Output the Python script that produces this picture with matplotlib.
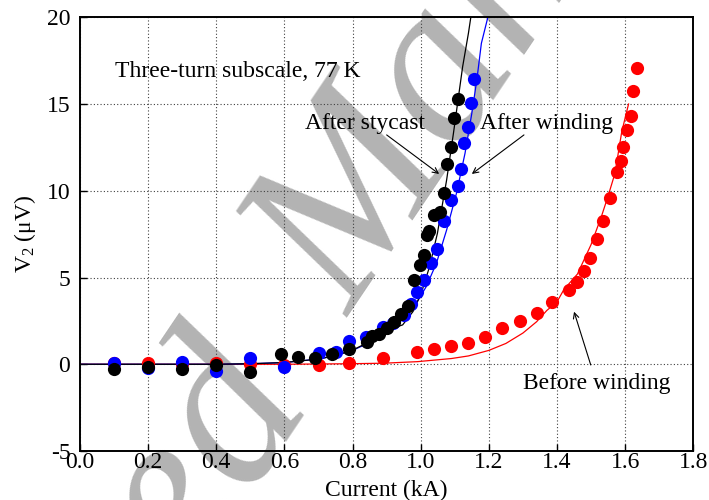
import numpy as np
import matplotlib
matplotlib.use("Agg")
import matplotlib.pyplot as plt

plt.rcParams["font.family"] = ["Liberation Serif", "DejaVu Serif"]
plt.rcParams["mathtext.fontset"] = "custom"
plt.rcParams["mathtext.rm"] = "Liberation Serif"
plt.rcParams["mathtext.it"] = "Liberation Serif:italic"
plt.rcParams["axes.unicode_minus"] = False

# measured points, current in kA, V2 in uV
before_I = [0.10, 0.20, 0.30, 0.40, 0.50, 0.60, 0.70, 0.79, 0.89, 0.99, 1.04,
            1.09, 1.14, 1.19, 1.24, 1.29, 1.34, 1.385, 1.435, 1.458, 1.48,
            1.497, 1.516, 1.536, 1.556, 1.575, 1.587, 1.595, 1.604, 1.616,
            1.624, 1.634]
before_V = [0.10, 0.05, 0.0, 0.05, 0.0, -0.04, -0.04, 0.09, 0.38, 0.73, 0.88,
            1.07, 1.25, 1.56, 2.07, 2.50, 2.98, 3.57, 4.26, 4.76, 5.38,
            6.14, 7.20, 8.26, 9.60, 11.07, 11.72, 12.52, 13.50, 14.31,
            15.75, 17.06]

wind_I = [0.10, 0.20, 0.30, 0.40, 0.50, 0.60, 0.70, 0.75, 0.79, 0.84, 0.89,
          0.92, 0.95, 0.97, 0.99, 1.01, 1.03, 1.048, 1.068, 1.088, 1.108,
          1.119, 1.128, 1.139, 1.148, 1.157]
wind_V = [0.06, -0.23, 0.12, -0.37, 0.35, -0.17, 0.63, 0.73, 1.34, 1.56, 2.15,
          2.40, 2.82, 3.48, 4.18, 4.84, 5.82, 6.63, 8.23, 9.46, 10.29,
          11.26, 12.74, 13.70, 15.06, 16.44]

styc_I = [0.10, 0.20, 0.30, 0.40, 0.50, 0.59, 0.64, 0.69, 0.74, 0.79, 0.842,
          0.858, 0.878, 0.90, 0.921, 0.943, 0.963, 0.979, 0.999, 1.010, 1.018,
          1.025, 1.040, 1.056, 1.067, 1.078, 1.088, 1.098, 1.108]
styc_V = [-0.29, -0.14, -0.29, -0.04, -0.44, 0.61, 0.44, 0.35, 0.58, 0.90, 1.28,
          1.62, 1.76, 2.07, 2.41, 2.89, 3.37, 4.88, 5.72, 6.30, 7.47,
          7.70, 8.60, 8.75, 9.90, 11.53, 12.54, 14.20, 15.29]

# fitted curves
before_fit_I = [0.0, 0.6, 0.79, 0.89, 0.99, 1.09, 1.14, 1.20, 1.25, 1.30,
                1.34, 1.37, 1.40, 1.42, 1.46, 1.50, 1.53, 1.55, 1.57, 1.59, 1.61]
before_fit_V = [0.0, 0.0, 0.03, 0.06, 0.15, 0.33, 0.48, 0.80, 1.20, 1.80,
                2.45, 3.10, 3.60, 4.30, 5.20, 6.90, 8.50, 9.70, 11.0, 13.4, 15.0]

wind_fit_I = [0.0, 0.4, 0.5, 0.6, 0.7, 0.75, 0.8, 0.85, 0.9, 0.95, 0.987,
              1.016, 1.046, 1.076, 1.105, 1.130, 1.150, 1.165, 1.178, 1.197]
wind_fit_V = [0.0, 0.0, 0.03, 0.1, 0.3, 0.5, 0.8, 1.25, 1.85, 2.65, 3.52,
              4.47, 5.82, 7.74, 9.86, 12.16, 14.47, 16.44, 18.5, 20.0]

styc_fit_I = [0.0, 0.4, 0.5, 0.6, 0.7, 0.75, 0.8, 0.85, 0.9, 0.947, 0.977,
              1.0015, 1.026, 1.049, 1.076, 1.096, 1.123, 1.140, 1.147]
styc_fit_V = [0.0, 0.0, 0.03, 0.1, 0.3, 0.5, 0.82, 1.3, 1.95, 2.27, 3.03,
              4.09, 5.63, 7.55, 10.62, 13.31, 17.15, 19.08, 20.0]

xticks = [0.0, 0.2, 0.4, 0.6, 0.8, 1.0, 1.2, 1.4, 1.6, 1.8]
yticks = [-5, 0, 5, 10, 15, 20]

fig = plt.figure(figsize=(7.09, 5.0), dpi=100)
ax = fig.add_axes([80 / 709, 49 / 500, 613.3 / 709, 433.7 / 500])
ax.patch.set_visible(False)

# watermark under everything, split at the gap so each word sits where it should
wm = dict(fontsize=166, color="#b3b3b3", style="italic", rotation=56,
          rotation_mode="anchor", va="baseline", zorder=-5)
fig.text(350 / 709, 1 - 318 / 500, "Manuscript", ha="left", **wm)
fig.text(319 / 709, 1 - 413 / 500, "Accepted", ha="right", **wm)

ax.plot(before_fit_I, before_fit_V, color="red", lw=0.9, zorder=2)
ax.plot(wind_fit_I, wind_fit_V, color="blue", lw=0.9, zorder=2)
ax.plot(styc_fit_I, styc_fit_V, color="black", lw=0.9, zorder=2)

ms = 9.5
ax.plot(before_I, before_V, "o", color="red", ms=ms, mec="none", zorder=3)
ax.plot(wind_I, wind_V, "o", color="blue", ms=ms, mec="none", zorder=3)
ax.plot(styc_I, styc_V, "o", color="black", ms=ms, mec="none", zorder=3)

ax.set_xlim(0, 1.8)
ax.set_ylim(-5, 20)
ax.set_xticks(xticks)
ax.set_xticklabels([f"{v:.1f}" for v in xticks])
ax.set_yticks(yticks)
ax.tick_params(direction="in", length=5, width=1, labelsize=17)
ax.tick_params(axis="x", pad=1)
ax.tick_params(axis="y", pad=7)
ax.grid(True, color="0.25", ls=(0, (1, 2)), lw=0.8)
for s in ax.spines.values():
    s.set_linewidth(1.4)

ax.set_xlabel("Current (kA)", fontsize=17, labelpad=5)
ax.set_ylabel("V$_2$ (μV)", fontsize=17, labelpad=6)

ax.text(0.103, 16.9, "Three-turn subscale, 77 K", fontsize=17, va="center")

arw = dict(arrowstyle="->", lw=0.8, color="black", shrinkA=0, shrinkB=0)
ax.annotate("", xy=(1.054, 10.97), xytext=(0.900, 13.22), arrowprops=arw)
ax.annotate("", xy=(1.150, 10.97), xytext=(1.303, 13.22), arrowprops=arw)
ax.annotate("", xy=(1.450, 3.03), xytext=(1.499, -0.04), arrowprops=arw)
ax.text(0.835, 13.85, "After stycast", fontsize=17, ha="center", va="center")
ax.text(1.37, 13.85, "After winding", fontsize=17, ha="center", va="center")
ax.text(1.30, -1.1, "Before winding", fontsize=17, ha="left", va="center")

fig.savefig("out.png", dpi=100)
